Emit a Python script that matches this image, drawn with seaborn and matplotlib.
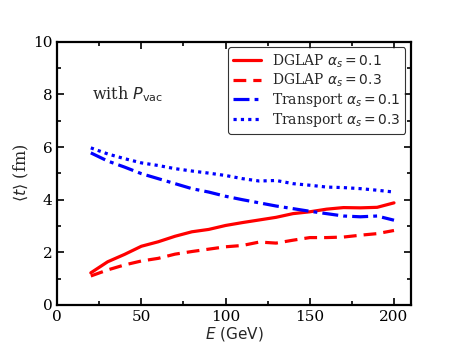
import numpy as np
import pandas as pd
import matplotlib
matplotlib.use("Agg")
import matplotlib.pyplot as plt
import seaborn as sns
from matplotlib.ticker import MultipleLocator

energy = [20, 30, 40, 50, 60, 70, 80, 90, 100, 110, 120, 130, 140, 150, 160, 170, 180, 190, 200]
dglap_01 = [1.22, 1.64, 1.92, 2.23, 2.40, 2.61, 2.78, 2.87, 3.02, 3.13, 3.23, 3.33, 3.47, 3.54, 3.64, 3.70, 3.69, 3.71, 3.88]
dglap_03 = [1.10, 1.33, 1.52, 1.67, 1.77, 1.93, 2.03, 2.12, 2.21, 2.26, 2.39, 2.35, 2.46, 2.56, 2.56, 2.58, 2.65, 2.71, 2.83]
transport_01 = [5.78, 5.47, 5.24, 4.99, 4.80, 4.61, 4.42, 4.29, 4.13, 4.00, 3.88, 3.76, 3.66, 3.56, 3.47, 3.38, 3.35, 3.38, 3.22]
transport_03 = [5.97, 5.74, 5.56, 5.40, 5.30, 5.18, 5.09, 5.01, 4.92, 4.80, 4.71, 4.73, 4.61, 4.55, 4.48, 4.46, 4.42, 4.36, 4.29]

labels = [r"DGLAP $\alpha_s = 0.1$", r"DGLAP $\alpha_s = 0.3$",
          r"Transport $\alpha_s = 0.1$", r"Transport $\alpha_s = 0.3$"]
series = [dglap_01, dglap_03, transport_01, transport_03]
colors = ["#ff0000", "#ff0000", "#0000ff", "#0000ff"]
styles = ["-", (0, (4, 2.2)), (0, (5, 1.6, 1.2, 1.6)), (0, (1, 1.3))]

sns.set_style("ticks")
plt.rcParams["font.family"] = ["DejaVu Serif"]
plt.rcParams["mathtext.fontset"] = "dejavusans"

fig = plt.figure(figsize=(4.57, 3.43), dpi=100)
ax = fig.add_axes([0.125, 0.111, 0.774, 0.767])

for lab, vals, c, ls in zip(labels, series, colors, styles):
    df = pd.DataFrame({"E": energy, "t": vals})
    sns.lineplot(data=df, x="E", y="t", ax=ax, color=c, linestyle=ls,
                 linewidth=2.3, label=lab)

ax.set_xlim(0, 210)
ax.set_ylim(0, 10)
ax.xaxis.set_major_locator(MultipleLocator(50))
ax.xaxis.set_minor_locator(MultipleLocator(25))
ax.yaxis.set_major_locator(MultipleLocator(2))
ax.yaxis.set_minor_locator(MultipleLocator(1))
ax.tick_params(which="both", direction="in", top=True, right=True, width=1.2, labelsize=11, colors="black")
ax.tick_params(which="major", length=5)
ax.tick_params(which="minor", length=3)
for s in ax.spines.values():
    s.set_linewidth(1.6)
    s.set_color("black")

ax.set_xlabel(r"$E$ $\mathrm{(GeV)}$", fontsize=11, labelpad=1)
ax.set_ylabel(r"$\langle t\rangle$ (fm)", fontsize=11.5, labelpad=1)

ax.text(21, 8.0, r"with $P_{\mathrm{vac}}$", fontsize=11.5, va="center", ha="left")

leg = ax.legend(loc="upper right", fontsize=10, frameon=True, handlelength=2.0,
                borderaxespad=0.4, labelspacing=0.15, handletextpad=0.8,
                borderpad=0.35)
leg.get_frame().set_edgecolor("black")
leg.get_frame().set_linewidth(0.8)

fig.savefig("out.png", dpi=100)
